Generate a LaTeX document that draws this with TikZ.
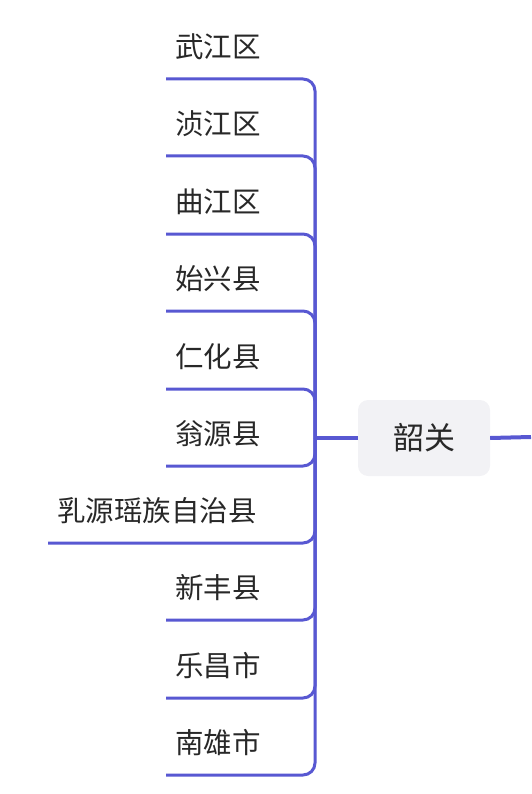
\documentclass[tikz,border=0pt]{standalone}
\usepackage{fontspec}
\newfontfamily\cjk{Noto Sans CJK SC}
\definecolor{branchc}{RGB}{88,88,210}
\definecolor{txtc}{RGB}{40,40,40}
\definecolor{rootfill}{RGB}{242,242,245}
\begin{document}
\begin{tikzpicture}[x=1pt,y=-1pt,
  leaf/.style={anchor=west,inner sep=0pt,text=txtc,font=\cjk\fontsize{28.5}{32}\selectfont},
  branch/.style={draw=branchc,line width=3pt,rounded corners=12pt},
  trunk/.style={draw=branchc,line width=4pt},
  rootbox/.style={fill=rootfill,rounded corners=10pt,minimum width=132pt,minimum height=76pt,inner sep=0pt,text=txtc,font=\cjk\fontsize{31}{36}\selectfont}]
\useasboundingbox (0,0) rectangle (531,794);
\coordinate (hub) at (315,438);
\node[rootbox] (root) at (424,438) {韶关};
\coordinate (out) at (531,437);
% leaves
\foreach \nm/\y/\x/\t in {a/79/166/武江区, b/156/166/浈江区, c/234/166/曲江区, d/311/166/始兴县, e/389/166/仁化县, f/466/166/翁源县, g/543/48/乳源瑶族自治县, h/620/166/新丰县, i/698/166/乐昌市, j/775/166/南雄市}{
  \coordinate (u\nm) at (\x,\y);
  \node[leaf] (t\nm) at (\x+9,\y-32) {\t};
  \draw[branch] (u\nm) -| (hub);
}
\draw[trunk] (hub) -- (root.west);
\draw[trunk] (root.east) -- (out);
\end{tikzpicture}
\end{document}
